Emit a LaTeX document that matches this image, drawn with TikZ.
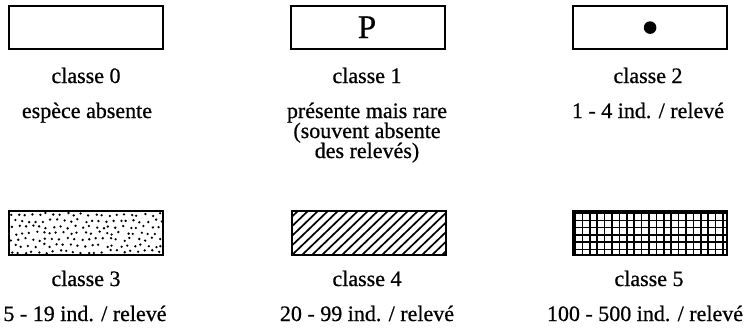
\documentclass[tikz,border=0pt]{standalone}
\usepackage{fontspec}
\setmainfont{Liberation Serif}[FakeBold=0.7]
\begin{document}
\begin{tikzpicture}[x=1pt,y=-1pt,
  legbox/.style={draw=black,line width=2.2pt,minimum width=154pt,minimum height=43pt,inner sep=0pt,anchor=north west},
  clslabel/.style={font=\fontsize{22}{24}\selectfont,inner sep=0pt,anchor=base},
  desclabel/.style={font=\fontsize{22}{20}\selectfont,inner sep=0pt,anchor=base,text height=14.5pt,text depth=4.5pt}]
\useasboundingbox (0,0) rectangle (750,335);
% top row
\node[legbox] (b0) at (8,5) {};
\node[legbox] (b1) at (290,5) {};
\node[legbox] (b2) at (572,5) {};
\node[font=\fontsize{33}{33}\selectfont,inner sep=0pt,anchor=base] (p) at (367,38) {P};
\fill (b2.center) circle (6.3pt);
% bottom row boxes (patterns first, frames after)
\coordinate (b3nw) at (8,210);
\coordinate (b4nw) at (291,210);
\coordinate (b5nw) at (572,210);
% stipple
\begin{scope}
\clip (8,210) rectangle (162,254);
\pgfmathsetseed{7}
\foreach \i in {0,...,22}{
  \foreach \j in {0,...,6}{
    \pgfmathsetmacro{\dx}{rand*1.8}
    \pgfmathsetmacro{\dy}{rand*1.6}
    \pgfmathsetmacro{\sh}{mod(\j,2)*3.5}
    \fill (11.5+\i*7+\sh+\dx, 214.5+\j*6.2+\dy) circle (1.3pt);
  }
}
\end{scope}
% hatching
\begin{scope}
\clip (291,210) rectangle (445,254);
\foreach \k in {-6,...,16}{
  \draw[line width=1.7pt] (291+\k*10,256) -- (291+\k*10+50,208);
}
\end{scope}
% grid
\begin{scope}
\clip (572,210) rectangle (726,254);
\foreach \k in {0,...,21}{
  \draw[line width=1.6pt] (575+\k*7.4,208) -- (575+\k*7.4,256);
}
\foreach \k in {0,...,6}{
  \draw[line width=1.6pt] (570,213+\k*7.3) -- (728,213+\k*7.3);
}
\end{scope}
\node[legbox,minimum height=44pt] (b3) at (b3nw) {};
\node[legbox,minimum height=44pt] (b4) at (b4nw) {};
\node[legbox,minimum height=44pt] (b5) at (b5nw) {};
% labels
\node[clslabel] (c0) at (86,83) {classe 0};
\node[clslabel] (c1) at (367,83) {classe 1};
\node[clslabel] (c2) at (648,83) {classe 2};
\node[clslabel] (c3) at (86,286) {classe 3};
\node[clslabel] (c4) at (367,286) {classe 4};
\node[clslabel] (c5) at (649,286) {classe 5};
\node[desclabel] (d0) at (87,118) {espèce absente};
\node[desclabel] (d1a) at (367,118) {présente mais rare};
\node[desclabel] (d1b) at (367,138) {(souvent absente};
\node[desclabel] (d1c) at (367,158) {des relevés)};
\node[desclabel] (d2) at (648,118) {1 - 4 ind. / relevé};
\node[desclabel] (d3) at (85,321) {5 - 19 ind. / relevé};
\node[desclabel] (d4) at (367,321) {20 - 99 ind. / relevé};
\node[desclabel] (d5) at (645,321) {100 - 500 ind. / relevé};
\end{tikzpicture}
\end{document}
